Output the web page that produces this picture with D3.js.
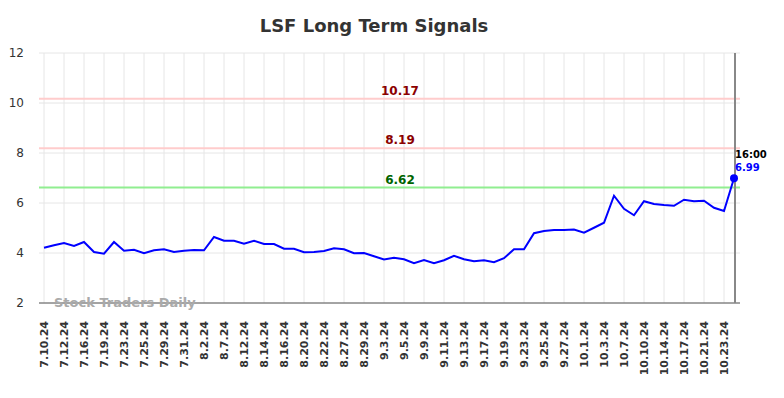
<!DOCTYPE html>
<html><head><meta charset="utf-8">
<script src="https://cdn.jsdelivr.net/npm/d3@7"></script>
<style>body{margin:0;background:#fff}svg{display:block;font-family:"DejaVu Sans",sans-serif}</style>
</head><body><svg id="c" width="784" height="398"></svg>
<script>
const dates = ["7.10.24","7.11.24","7.12.24","7.15.24","7.16.24","7.17.24","7.19.24","7.22.24","7.23.24","7.24.24",
"7.25.24","7.26.24","7.29.24","7.30.24","7.31.24","8.1.24","8.2.24","8.5.24","8.7.24","8.8.24",
"8.12.24","8.13.24","8.14.24","8.15.24","8.16.24","8.19.24","8.20.24","8.21.24","8.22.24","8.23.24",
"8.27.24","8.28.24","8.29.24","8.30.24","9.3.24","9.4.24","9.5.24","9.6.24","9.9.24","9.10.24",
"9.11.24","9.12.24","9.13.24","9.16.24","9.17.24","9.18.24","9.19.24","9.20.24","9.23.24","9.24.24",
"9.25.24","9.26.24","9.27.24","9.30.24","10.1.24","10.2.24","10.3.24","10.4.24","10.7.24","10.8.24",
"10.10.24","10.11.24","10.14.24","10.15.24","10.17.24","10.18.24","10.21.24","10.22.24","10.23.24","10.24.24"];
const values = [4.21,4.31,4.40,4.28,4.44,4.04,3.97,4.44,4.09,4.13,
3.99,4.11,4.15,4.04,4.09,4.12,4.11,4.64,4.49,4.49,
4.37,4.49,4.36,4.36,4.17,4.17,4.03,4.04,4.08,4.19,
4.15,3.99,4.00,3.87,3.74,3.81,3.75,3.59,3.72,3.59,
3.71,3.89,3.75,3.67,3.71,3.63,3.79,4.15,4.15,4.79,
4.88,4.92,4.92,4.94,4.81,5.01,5.21,6.29,5.77,5.51,
6.07,5.96,5.92,5.89,6.13,6.07,6.09,5.81,5.68,6.99];
const levels = [10.17, 8.19, 6.62];
const levelKinds = ["resistance","resistance","support"];
const yTicks = [2,4,6,8,10,12];
const lastTime = "16:00";
const title = "LSF Long Term Signals";
const watermark = "Stock Traders Daily";

const svg = d3.select("#c");
const x = d3.scalePoint().domain(d3.range(values.length)).range([44, 734]);
const y = d3.scaleLinear().domain([2, 12]).range([303, 53]);
const L = 39, R = 740;

svg.append("text").attr("x", 374).attr("y", 32).attr("text-anchor","middle")
  .attr("font-size", 18).attr("font-weight","bold").attr("fill","#333").text(title);

// horizontal grid
svg.append("g").selectAll("line").data(yTicks).join("line")
  .attr("x1", L).attr("x2", R).attr("y1", d=>y(d)).attr("y2", d=>y(d))
  .attr("stroke","#e6e6e6").attr("stroke-width",1);
// vertical grid at labelled points
const labelIdx = d3.range(0, values.length, 2);
svg.append("g").selectAll("line").data(labelIdx).join("line")
  .attr("x1", d=>x(d)).attr("x2", d=>x(d)).attr("y1", 53).attr("y2", 303)
  .attr("stroke","#e6e6e6").attr("stroke-width",1);

// y labels
svg.append("g").selectAll("text").data(yTicks).join("text")
  .attr("x", 24).attr("y", d=>y(d)).attr("dy","0.35em").attr("text-anchor","end")
  .attr("font-size",12).attr("fill","#333").text(d=>d);

// level lines
const lvlColor = k => k==="support" ? "#90ee90" : "#ffcccc";
const lvlText = k => k==="support" ? "#006400" : "#8b0000";
svg.append("g").selectAll("line").data(levels).join("line")
  .attr("x1", L).attr("x2", R).attr("y1", d=>y(d)).attr("y2", d=>y(d))
  .attr("stroke",(d,i)=>lvlColor(levelKinds[i])).attr("stroke-width",2);
svg.append("g").selectAll("text").data(levels).join("text")
  .attr("x", 400).attr("y", d=>y(d)-4).attr("text-anchor","middle")
  .attr("font-size",12).attr("font-weight","bold")
  .attr("fill",(d,i)=>lvlText(levelKinds[i])).text(d=>d.toFixed(2));

// axis line bottom
svg.append("line").attr("x1",L).attr("x2",R).attr("y1",303).attr("y2",303)
  .attr("stroke","#555").attr("stroke-width",1);
// right vertical line
svg.append("line").attr("x1",735).attr("x2",735).attr("y1",53).attr("y2",303)
  .attr("stroke","#888").attr("stroke-width",2);

// watermark
svg.append("text").attr("x",54).attr("y",307).attr("font-size",13).attr("font-weight","bold")
  .attr("fill","#aaa").text(watermark);

// line
svg.append("path").datum(values)
  .attr("d", d3.line().x((d,i)=>x(i)).y(d=>y(d)))
  .attr("fill","none").attr("stroke","#0000ff").attr("stroke-width",2);

const li = values.length-1;
svg.append("circle").attr("cx",x(li)).attr("cy",y(values[li])).attr("r",4).attr("fill","#0000ff");
svg.append("text").attr("x",735).attr("y",158).attr("font-size",10).attr("font-weight","bold")
  .attr("fill","#000").text(lastTime);
svg.append("text").attr("x",735).attr("y",171).attr("font-size",10).attr("font-weight","bold")
  .attr("fill","#0000ff").text(values[li].toFixed(2));

// x labels
svg.append("g").selectAll("text").data(labelIdx).join("text")
  .attr("transform", d=>`translate(${x(d)},321) rotate(-90)`)
  .attr("dy","0.35em").attr("text-anchor","end")
  .attr("font-size",11).attr("font-weight","bold").attr("fill","#333")
  .text(d=>dates[d]);
</script></body></html>
